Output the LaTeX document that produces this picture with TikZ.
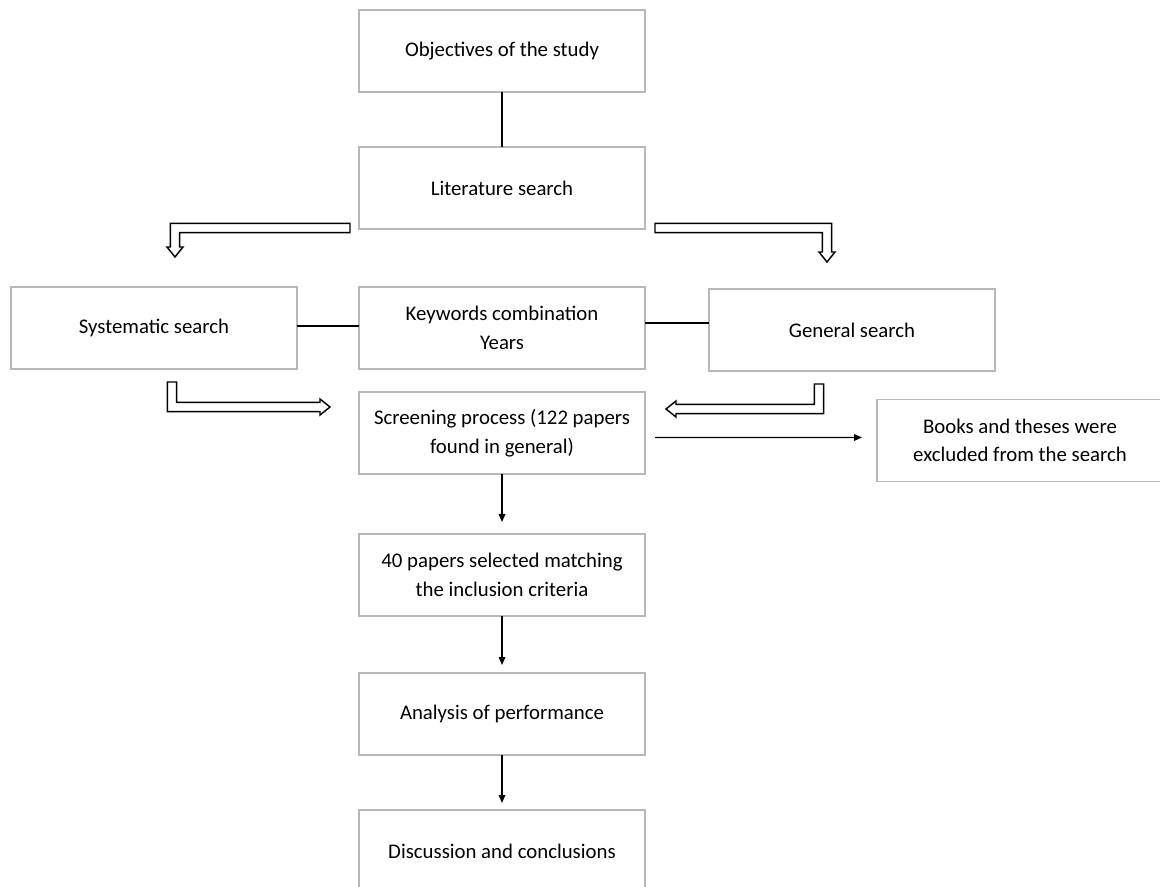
\documentclass[tikz,border=0pt]{standalone}
\usepackage{fontspec}
\setmainfont{Carlito}
\usepackage{tikz}
\usetikzlibrary{positioning,calc,arrows.meta}
\tikzstyle{stage} = [rectangle, minimum width=214.5pt, minimum height=61.5pt, text centered, align=center, draw=black!28, line width=1pt, outer sep=0pt, font=\fontsize{15.6pt}{21.5pt}\selectfont]
\tikzstyle{arrow} = [line width=0.9pt, -{Triangle[length=6pt,width=5pt]}]
\tikzstyle{link} = [line width=0.9pt]
\tikzstyle{hollow} = [line width=1.1pt, line join=miter, fill=white]

\begin{document}
\begin{tikzpicture}[node distance=43.5pt]
\useasboundingbox (0,0) rectangle (870pt,-665.25pt);
\node (obj) [stage] at (376.5pt,-38.25pt) {Objectives of the study};
\node (lit) [stage, below = 41.25pt of obj] {Literature search};
\node (key) [stage, below = 43.5pt of lit] {Keywords combination\\Years};
\node (sys) [stage, left = 46.5pt of key] {Systematic search};
\node (gen) [stage, right = 48pt of key, yshift=-1.5pt] {General search};
\node (scr) [stage, below = 17.25pt of key] {Screening process (122 papers\\found in general)};
\node (books) [stage, right = 174pt of scr, yshift=-5.6pt] {Books and theses were\\excluded from the search};
\node (sel) [stage, below = 45pt of scr] {40 papers selected matching\\the inclusion criteria};
\node (ana) [stage, below = 42.75pt of sel] {Analysis of performance};
\node (dis) [stage, below = 41.25pt of ana] {Discussion and conclusions};

\draw [link] (obj) -- (lit);
\draw [link] ($(sys.east)+(0,1.5pt)$) -- ($(key.west)+(0,1.5pt)$);
\draw [link] ($(key.east)+(0,3.75pt)$) -- ($(gen.west)+(0,5.25pt)$);

\draw [arrow, shorten >=9pt] (scr) -- (sel);
\draw [arrow, shorten >=6pt] (sel) -- (ana);
\draw [arrow, shorten >=5.25pt] (ana) -- (dis);
\draw [arrow, shorten <=7.5pt, shorten >=11.25pt] ($(scr.east)+(0,-3.4pt)$) -- ($(books.west)+(0,2.25pt)$);

% hollow arrows
\coordinate (a1s) at ($(lit.south west)+(-6.75pt,0.75pt)$);
\coordinate (a1e) at ($(sys.north)+(15.75pt,22.5pt)$);
\coordinate (a2s) at ($(lit.south east)+(7.5pt,0.75pt)$);
\coordinate (a2e) at ($(gen.north)+(-18.75pt,20.25pt)$);
\coordinate (a3s) at ($(sys.south)+(13.5pt,-9.75pt)$);
\coordinate (a3e) at ($(scr.north west)+(-21.75pt,-11.25pt)$);
\coordinate (a4s) at ($(gen.south)+(-24.75pt,-9.75pt)$);
\coordinate (a4e) at ($(scr.north east)+(15.75pt,-12.75pt)$);

\draw [hollow] ($(a1s)+(0,3.5pt)$) -| ($(a1e)+(-3.5pt,7.5pt)$) -- ++(-2.5pt,0) -- (a1e) -- ($(a1e)+(6pt,7.5pt)$) -- ++(-2.5pt,0) |- ($(a1s)+(0,-3.5pt)$) -- cycle;
\draw [hollow] ($(a2s)+(0,3.5pt)$) -| ($(a2e)+(3.5pt,7.5pt)$) -- ++(2.5pt,0) -- (a2e) -- ($(a2e)+(-6pt,7.5pt)$) -- ++(2.5pt,0) |- ($(a2s)+(0,-3.5pt)$) -- cycle;
\draw [hollow] ($(a3s)+(-3.5pt,0)$) |- ($(a3e)+(-7.5pt,-3.5pt)$) -- ++(0,-2.5pt) -- (a3e) -- ($(a3e)+(-7.5pt,6pt)$) -- ++(0,-2.5pt) -| ($(a3s)+(3.5pt,0)$) -- cycle;
\draw [hollow] ($(a4s)+(3.5pt,0)$) |- ($(a4e)+(7.5pt,-3.5pt)$) -- ++(0,-2.5pt) -- (a4e) -- ($(a4e)+(7.5pt,6pt)$) -- ++(0,-2.5pt) -| ($(a4s)+(-3.5pt,0)$) -- cycle;
\end{tikzpicture}
\end{document}
